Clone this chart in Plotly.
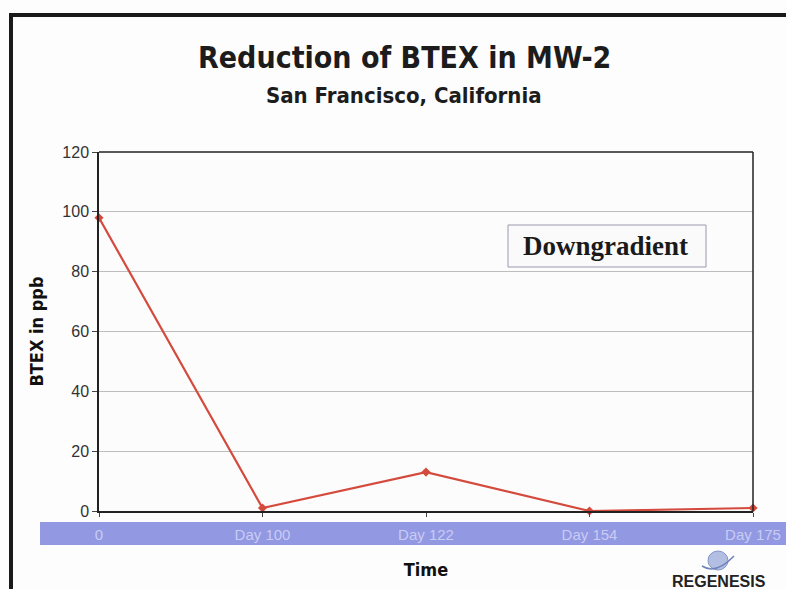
import plotly.graph_objects as go

# Sampling events and measured BTEX concentrations (ppb)
sample_labels = ["0", "Day 100", "Day 122", "Day 154", "Day 175"]
btex_ppb = [98, 1, 13, 0, 1]
y_ticks = [0, 20, 40, 60, 80, 100, 120]

W, H = 786, 589
x0_px, x1_px = 99, 753
y_top_px, y_bot_px = 152, 511

def px_x(p):
    return p / W

def px_y(p):
    return 1 - p / H

idx = list(range(len(sample_labels)))

fig = go.Figure()
fig.add_trace(go.Scatter(
    x=idx, y=btex_ppb, mode="lines+markers",
    line=dict(color="#d44b3e", width=2.2),
    marker=dict(symbol="diamond", size=7, color="#d44b3e"),
    cliponaxis=False, showlegend=False,
))

label_font = "DejaVu Sans Condensed, Liberation Sans, Arial"

fig.update_layout(
    width=W, height=H,
    margin=dict(l=0, r=0, t=0, b=0, autoexpand=False),
    paper_bgcolor="#fdfdfd",
    plot_bgcolor="#fcfcfc",
    xaxis=dict(
        domain=[px_x(x0_px), px_x(x1_px)], automargin=False,
        range=[0, 4], tickmode="array", tickvals=idx, ticktext=sample_labels,
        showgrid=False, zeroline=False, showline=True, linecolor="#222", linewidth=1.5,
        ticks="outside", ticklen=4, tickcolor="#444",
        tickfont=dict(family="Liberation Sans, Arial", size=15, color="#c8ccf4"),
        ticklabelstandoff=5,
        title=dict(text="<b>Time</b>", font=dict(family=label_font, size=18, color="#111"),
                   standoff=22),
    ),
    yaxis=dict(
        domain=[px_y(y_bot_px), px_y(y_top_px)], automargin=False,
        range=[0, 120], tickvals=y_ticks,
        showgrid=True, gridcolor="#bdbdbd", gridwidth=1,
        zeroline=False, showline=True, linecolor="#222", linewidth=1.5, mirror=False,
        ticks="outside", ticklen=5, tickcolor="#444",
        tickfont=dict(family="Liberation Sans, Arial", size=16, color="#333"),
        title=dict(text="<b>BTEX in ppb</b>", font=dict(family=label_font, size=18, color="#111"),
                   standoff=14),
    ),
)

shapes = [
    # outer frame
    dict(type="line", xref="paper", yref="paper", x0=px_x(11), x1=px_x(11),
         y0=0, y1=px_y(14), line=dict(color="#1a1a1a", width=4)),
    dict(type="line", xref="paper", yref="paper", x0=px_x(9), x1=1,
         y0=px_y(15), y1=px_y(15), line=dict(color="#1a1a1a", width=4)),
    # top and right edges of the plot area
    dict(type="line", xref="paper", yref="paper", x0=px_x(x0_px), x1=px_x(x1_px),
         y0=px_y(y_top_px), y1=px_y(y_top_px), line=dict(color="#222", width=1.5)),
    dict(type="line", xref="paper", yref="paper", x0=px_x(x1_px), x1=px_x(x1_px),
         y0=px_y(y_bot_px), y1=px_y(y_top_px), line=dict(color="#222", width=1.5)),
    # category band behind the time labels
    dict(type="rect", xref="paper", yref="paper", x0=px_x(40), x1=1,
         y0=px_y(545), y1=px_y(522), fillcolor="#9298e2", line=dict(width=0), layer="below"),
    # note box
    dict(type="rect", xref="paper", yref="paper", x0=px_x(508), x1=px_x(706),
         y0=px_y(267), y1=px_y(225), fillcolor="#fafafa",
         line=dict(color="#9a9ab0", width=1)),
    # logo mark
    dict(type="circle", xref="paper", yref="paper", x0=px_x(708), x1=px_x(728),
         y0=px_y(570), y1=px_y(551), fillcolor="#b3bfe2", line=dict(color="#8393c8", width=1)),
    dict(type="path", xref="paper", yref="paper",
         path=f"M {px_x(702)},{px_y(566)} Q {px_x(716)},{px_y(575)} {px_x(734)},{px_y(556)}",
         line=dict(color="#6f80bb", width=1.5)),
]
fig.update_layout(shapes=shapes)

annotations = [
    dict(text="<b>Reduction of BTEX in MW-2</b>", x=px_x(404), y=px_y(57),
         font=dict(family=label_font, size=30, color="#1c1c1c")),
    dict(text="<b>San Francisco, California</b>", x=px_x(404), y=px_y(96),
         font=dict(family=label_font, size=22, color="#1c1c1c")),
    dict(text="<b>Downgradient</b>", x=px_x(605), y=px_y(246),
         font=dict(family="Liberation Serif, Times New Roman", size=27, color="#1a1a1a")),
    dict(text="<b>REGENESIS</b>", x=px_x(719), y=px_y(581),
         font=dict(family="Liberation Sans, Arial", size=16, color="#222")),
]
for a in annotations:
    a.update(xref="paper", yref="paper", showarrow=False, xanchor="center", yanchor="middle")
fig.update_layout(annotations=annotations)

fig.write_html("out.html")
